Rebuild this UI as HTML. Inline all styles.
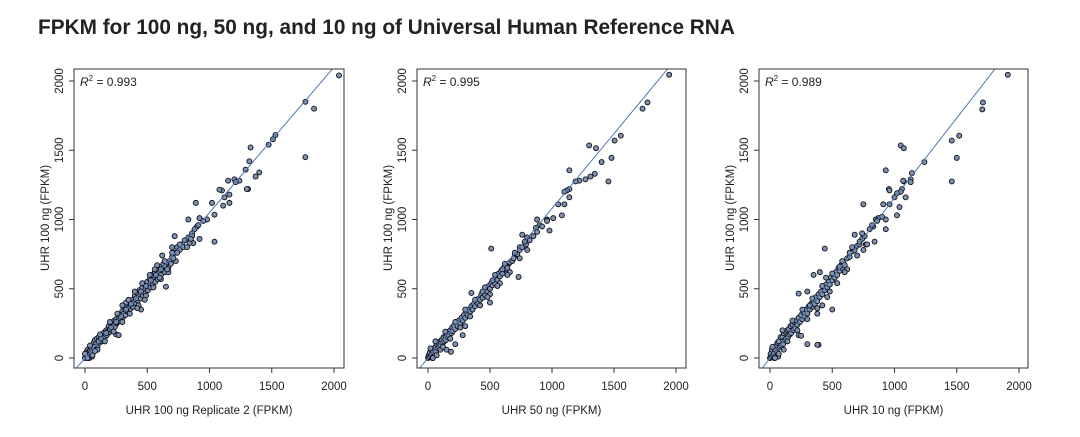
<!DOCTYPE html>
<html><head><meta charset="utf-8">
<style>
body{margin:0;background:#fff;width:1080px;height:432px;overflow:hidden;font-family:"Liberation Sans",Arial,sans-serif;}
svg text{font-family:"Liberation Sans",Arial,sans-serif;fill:#222;}
</style></head>
<body>
<svg id="c" width="1080" height="432">
<text x="38" y="34" font-size="20.8" font-weight="bold" fill="#000">FPKM for 100 ng, 50 ng, and 10 ng of Universal Human Reference RNA</text>
</svg>
<script>
const ticks=[0,500,1000,1500,2000];
const xTitles=["UHR 100 ng Replicate 2 (FPKM)","UHR 50 ng (FPKM)","UHR 10 ng (FPKM)"];
const r2Labels=["0.993","0.995","0.989"];
const slopes=[1.05,1.08,1.155];
const pts1=[[2040,2040],[1770,1850],[1840,1800],[1770,1450],[1530,1610],[1510,1580],[1475,1540],[1330,1520],[1320,1420],[1290,1360],[1400,1340],[1370,1310],[1240,1280],[1200,1290],[1150,1280],[1210,1270],[1310,1220],[1300,1220],[1160,1180],[1100,1210],[1080,1215],[1120,1160],[1110,1100],[1160,1120],[1020,1120],[890,1120],[830,1000],[1040,1035],[1040,840],[980,1000],[920,1010],[900,950],[860,900],[920,860],[870,830],[840,830],[780,820],[760,800],[720,880],[700,800],[650,515],[450,350],[620,740],[250,170],[270,165],
[5,10],[10,40],[15,5],[20,60],[25,20],[30,45],[35,0],[40,55],[45,30],[50,70],[55,10],[60,90],[65,40],[70,110],[75,60],[80,130],[85,75],[90,100],[95,140],[100,80],[110,150],[115,110],[120,130],[130,170],[135,120],[140,160],[150,140],[155,185],[160,150],[170,200],[175,165],[180,190],[190,230],[195,185],[200,210],[210,250],[215,200],[220,240],[230,230],[235,270],[240,225],[250,280],[255,250],[260,260],[270,300],[275,265],[280,310],[290,285],[300,340],[305,295],[310,320],[320,360],[325,310],[330,340],[340,380],[345,335],[350,360],[360,400],[365,355],[370,375],[380,420],[385,370],[390,400],[400,450],[405,395],[410,420],[420,470],[425,415],[430,440],[440,490],[445,430],[450,460],[460,510],[465,450],[470,480],[480,530],[485,470],[490,500],[500,550],[505,490],[510,520],[520,570],[525,510],[530,540],[540,600],[545,530],[550,560],[560,620],[565,550],[570,590],[580,640],[585,570],[590,610],[600,660],[610,600],[620,640],[630,680],[640,620],[650,660],[660,690],[670,650],[680,700],[700,730],[720,760],[740,800],[760,820],[800,850],[830,870],[860,880],[880,930],[910,960],[950,990],[0,0],[10,20],[30,10],[50,40],[70,80],[90,60],[110,120],[130,140],[170,180],[210,220],[250,260],[290,300],[330,350],[370,390],[410,430],[450,480],[490,520],[530,560],[570,600],[610,640],
[100,60],[120,170],[160,120],[200,260],[230,190],[260,320],[300,260],[330,400],[360,320],[400,480],[430,380],[460,540],[490,450],[520,600],[550,510],[580,670],[610,570],[640,700],[670,620],[700,760],[730,700],[760,780],[790,800],[820,800],[850,860],[20,0],[40,90],[60,20],[80,50],[0,30],[300,380],[350,420],[420,360],[480,420],[560,640],[600,580],[660,640],[690,680],[710,720],[740,760]];
const pts2=[[1945,2045],[1770,1845],[1730,1800],[1555,1605],[1505,1570],[1300,1535],[1355,1515],[1480,1445],[1400,1415],[1345,1330],[1310,1310],[1140,1355],[1455,1275],[1270,1290],[1220,1280],[1190,1275],[1140,1220],[1120,1210],[1100,1200],[1140,1160],[1100,1110],[1050,1110],[1080,1030],[1010,1010],[960,1000],[880,1000],[980,920],[900,960],[870,940],[800,780],[800,870],[760,890],[780,830],[740,800],[510,790],[730,585],[500,400],[280,165],[220,100],[185,45],[650,680],[600,620],[560,600],
[0,0],[5,20],[10,5],[15,40],[20,10],[25,60],[30,25],[35,0],[40,50],[45,15],[50,70],[55,35],[60,80],[65,45],[70,100],[80,70],[85,110],[90,80],[100,120],[105,90],[110,130],[120,110],[125,150],[130,120],[140,160],[145,130],[150,170],[160,150],[165,190],[170,160],[180,200],[190,180],[195,220],[200,195],[210,235],[220,210],[230,250],[240,230],[250,270],[260,250],[270,290],[280,270],[290,310],[300,290],[310,330],[320,310],[330,350],[340,335],[350,375],[360,350],[370,390],[380,375],[390,410],[400,395],[410,430],[420,420],[430,460],[440,435],[450,475],[460,455],[470,500],[480,480],[490,520],[500,500],[510,540],[520,525],[530,560],[540,540],[550,580],[560,565],[570,610],[580,590],[590,630],[600,610],[610,650],[620,640],[630,660],[640,650],[660,690],[680,700],[700,740],[720,750],[740,780],[760,800],[790,820],[820,850],[850,880],[880,910],[920,950],[960,990],[350,470],[300,230],[150,60],
[60,120],[100,60],[140,190],[180,140],[220,260],[260,220],[300,350],[340,300],[380,420],[420,380],[460,510],[500,460],[540,600],[580,540],[620,680],[660,620],[700,760],[740,720],[780,840],[20,70],[40,0],[70,20],[120,80],[440,480],[480,440],[520,560],[560,520],[600,640],[640,600],[690,720]];
const pts3=[[1910,2045],[1710,1845],[1705,1795],[1520,1605],[1460,1570],[1500,1445],[1460,1275],[1240,1415],[1050,1535],[1075,1515],[930,1355],[1140,1335],[1130,1290],[1130,1270],[1075,1275],[1070,1280],[955,1220],[960,1210],[1060,1220],[1050,1200],[1020,1190],[1000,1160],[1090,1160],[750,1110],[910,1110],[960,1110],[1040,1090],[1020,1030],[930,1000],[930,930],[870,1010],[850,1000],[840,840],[750,780],[770,820],[680,890],[440,790],[500,350],[390,95],[380,95],[300,100],[230,165],[250,160],[230,465],[300,480],[350,600],[400,620],[420,380],
[0,0],[5,30],[10,5],[15,60],[20,15],[25,80],[30,30],[35,0],[40,60],[45,20],[50,90],[55,40],[60,110],[65,10],[70,120],[80,80],[85,150],[90,90],[100,150],[105,100],[110,180],[120,130],[125,190],[130,140],[140,200],[145,150],[150,210],[160,170],[165,230],[170,180],[180,240],[190,200],[195,260],[200,215],[210,270],[220,240],[230,290],[240,260],[250,310],[260,280],[270,330],[280,300],[290,350],[300,320],[310,370],[320,350],[330,390],[340,370],[350,410],[360,390],[370,440],[380,410],[390,460],[400,440],[410,480],[420,460],[430,510],[440,490],[450,530],[460,510],[470,560],[480,530],[490,580],[500,560],[510,600],[520,580],[530,620],[540,600],[550,650],[560,630],[570,670],[580,650],[590,690],[600,670],[620,720],[640,730],[660,770],[680,780],[700,810],[720,820],[740,860],[760,880],[800,930],[830,950],[860,990],[900,1020],[380,320],[320,380],
[60,40],[100,200],[140,120],[180,270],[220,200],[260,350],[300,280],[340,430],[380,360],[420,520],[460,440],[500,610],[540,540],[580,700],[620,640],[660,800],[700,740],[740,900],[780,820],[820,960],[20,80],[40,0],[70,30],[110,60],[450,580],[480,480],[560,660],[600,620],[640,760],[720,840]];
const allPts=[pts1,pts2,pts3];
const panels=[{L:74,R:344,x0:85,x1:334,yl:63,yt:49},{L:417,R:686,x0:428,x1:676,yl:406,yt:392},{L:759,R:1028,x0:770,x1:1019,yl:748,yt:734}];
const T=69,B=368,Y0=358,Y1=81;
const NS="http://www.w3.org/2000/svg";
const svg=document.getElementById('c');
function mk(tag,attrs,parent){const e=document.createElementNS(NS,tag);for(const k in attrs)e.setAttribute(k,attrs[k]);(parent||svg).appendChild(e);return e;}
panels.forEach((p,i)=>{
  const sx=v=>p.x0+(p.x1-p.x0)*v/2000;
  const sy=v=>Y0-(Y0-Y1)*v/2000;
  const g=mk('g',{});
  
  
  const cp=mk('clipPath',{id:'cp'+i},g);mk('rect',{x:p.L,y:T,width:p.R-p.L,height:B-T},cp);
  const pg=mk('g',{'clip-path':'url(#cp'+i+')'},g);
  allPts[i].forEach(d=>{
    const c=mk('circle',{cx:sx(d[0]),cy:sy(d[1]),r:2.5,fill:'#7d92b0',stroke:'#0d0d14','stroke-width':0.9},pg);
    
    
  });
  const xa=-400,xb=2400;
  const ln=mk('line',{x1:sx(xa),y1:sy(xa*slopes[i]),x2:sx(xb),y2:sy(xb*slopes[i]),stroke:'#4f7ab8','stroke-width':1},pg);
  
  
  const box=mk('rect',{x:p.L,y:T,width:p.R-p.L,height:B-T,fill:'none',stroke:'#333','stroke-width':1},g);
  
  
  ticks.forEach(t=>{
    mk('line',{x1:sx(t),y1:B,x2:sx(t),y2:B+5,stroke:'#333'},g);
    const tx=mk('text',{x:sx(t),y:B+22,'font-size':11.5,'text-anchor':'middle'},g);tx.textContent=t;
    
    
    mk('line',{x1:p.L,y1:sy(t),x2:p.L-5,y2:sy(t),stroke:'#333'},g);
    const ty=mk('text',{x:p.yl,y:sy(t),'font-size':11.5,'text-anchor':'middle',transform:`rotate(-90 ${p.yl} ${sy(t)})`},g);ty.textContent=t;
    
    
  });
  const xt=mk('text',{x:(p.L+p.R)/2,y:414,'font-size':11.5,'text-anchor':'middle'},g);xt.textContent=xTitles[i];
  
  
  const yt=mk('text',{x:p.yt,y:218,'font-size':11.5,'text-anchor':'middle',transform:`rotate(-90 ${p.yt} 218)`},g);yt.textContent='UHR 100 ng (FPKM)';
  
  
  const r=mk('text',{x:p.L+6,y:86,'font-size':12},g);
  r.innerHTML='<tspan font-style="italic">R</tspan><tspan dy="-5" font-size="8">2</tspan><tspan dy="5"> = '+r2Labels[i]+'</tspan>';
  
  
});
</script>
</body></html>
